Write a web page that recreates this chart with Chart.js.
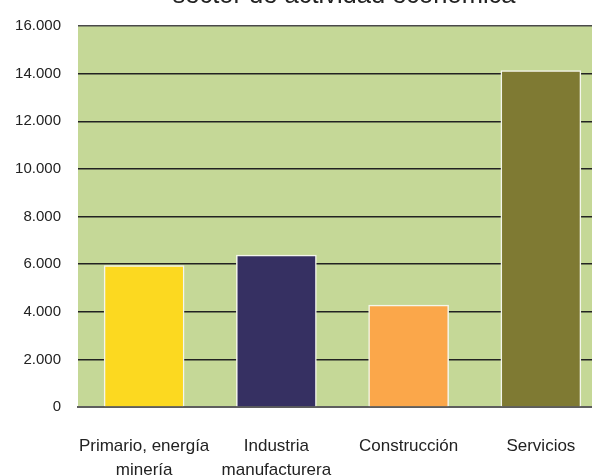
<!DOCTYPE html>
<html lang="es">

<head>
    <meta charset="UTF-8">
    <title>Sector de actividad económica</title>
    <script src="https://cdn.jsdelivr.net/npm/chart.js"></script>
    <style>
        html, body { margin: 0; padding: 0; background: #fff; overflow: hidden; }
        #wrap { width: 607px; height: 475px; }
    </style>
</head>

<body>
    <div id="wrap"><canvas id="sectorChart" width="607" height="475"></canvas></div>

    <script>
        // data
        const titleText = 'sector de actividad económica';
        const sectors = [['Primario, energía', 'minería'], ['Industria', 'manufacturera'], 'Construcción', 'Servicios'];
        const empresas = [5940, 6380, 4280, 14130];
        const barColors = ['#FCD920', '#363062', '#FBA74A', '#7F7A33'];
        const yTicks = [0, 2000, 4000, 6000, 8000, 10000, 12000, 14000, 16000];

        const fmt = v => String(v).replace(/\B(?=(\d{3})+(?!\d))/g, '.');

        // green plot background + cut-off title at the very top
        const decor = {
            id: 'decor',
            beforeDraw(chart) {
                const { ctx, chartArea: a } = chart;
                ctx.save();
                ctx.fillStyle = '#C5D897';
                ctx.fillRect(a.left, a.top, a.right - a.left, a.bottom - a.top);
                ctx.restore();
            },
            afterDraw(chart) {
                const ctx = chart.ctx;
                ctx.save();
                ctx.fillStyle = '#222';
                ctx.font = '25.5px "Liberation Sans", Arial, sans-serif';
                ctx.textAlign = 'center';
                ctx.textBaseline = 'alphabetic';
                ctx.fillText(titleText, 344, 3);
                ctx.restore();
            }
        };

        const ctx = document.getElementById('sectorChart').getContext('2d');
        new Chart(ctx, {
            type: 'bar',
            data: {
                labels: sectors,
                datasets: [{
                    data: empresas,
                    backgroundColor: barColors,
                    borderColor: '#F4F6EC',
                    borderWidth: 1.5,
                    barThickness: 80
                }]
            },
            options: {
                responsive: false,
                animation: false,
                layout: { padding: { top: 22, left: 0, right: 0, bottom: 0 } },
                plugins: {
                    legend: { display: false },
                    tooltip: { enabled: false }
                },
                scales: {
                    x: {
                        z: 1,
                        grid: { display: false, drawTicks: false },
                        border: { display: true, color: '#5E5E5E', width: 2 },
                        ticks: {
                            padding: 28,
                            color: '#222',
                            autoSkip: false,
                            maxRotation: 0,
                            minRotation: 0,
                            font: { family: '"Liberation Sans", Arial, sans-serif', size: 17, lineHeight: 1.37 }
                        },
                        afterFit: s => { s.height = 68; s.paddingLeft = 0; s.paddingRight = 0; }
                    },
                    y: {
                        z: 1,
                        min: 0,
                        max: 16000,
                        afterBuildTicks: s => { s.ticks = yTicks.map(v => ({ value: v })); },
                        grid: {
                            drawTicks: false,
                            lineWidth: 1.5,
                            color: c => (c.tick.value === 16000 ? '#4A4A4A' : '#222')
                        },
                        border: { display: false },
                        ticks: {
                            padding: 17,
                            color: '#222',
                            font: { family: '"Liberation Sans", Arial, sans-serif', size: 15 },
                            callback: v => fmt(v)
                        },
                        afterFit: s => { s.width = 78; }
                    }
                }
            },
            plugins: [decor]
        });
    </script>
</body>

</html>
